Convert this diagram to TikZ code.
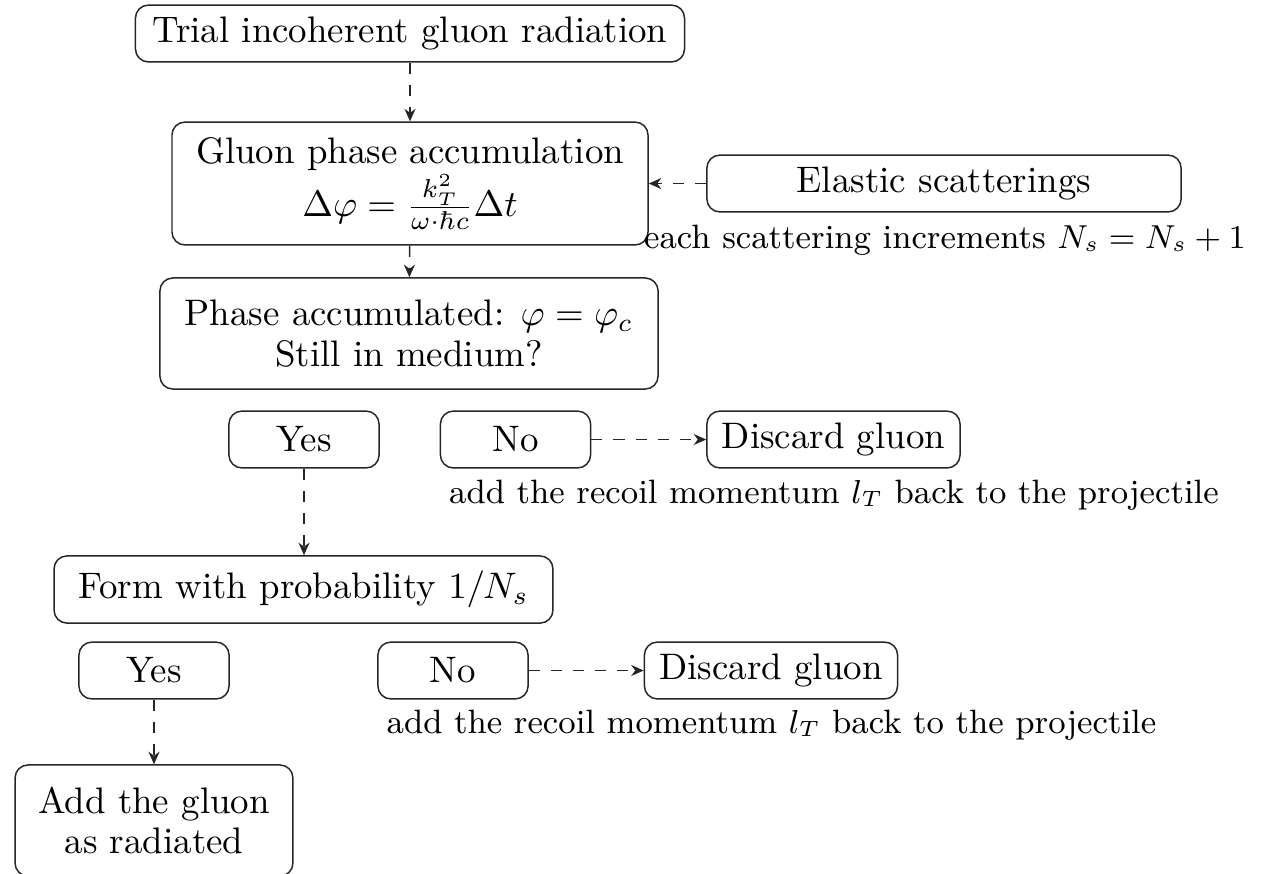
\documentclass[tikz,border=0pt]{standalone}
\usetikzlibrary{arrows.meta}
\begin{document}
\begin{tikzpicture}[x=0.271pt,y=-0.271pt,
  box/.style={draw=black!85, rounded corners=3.5pt, align=center, inner sep=0pt,
    font=\fontsize{10pt}{10.9pt}\selectfont},
  note/.style={inner sep=0pt, font=\fontsize{9.15pt}{11pt}\selectfont},
  flow/.style={draw=black!85, dashed, -{Stealth[length=3.4pt,width=3pt]}}]
\useasboundingbox (0,0) rectangle (1262,873);
\node[box, minimum width=148.8pt, minimum height=15.4pt] (trial) at (410,33.5) {Trial incoherent gluon radiation};
\node[box, minimum width=129pt, minimum height=33.3pt] (phase) at (410,183.5) {Gluon phase accumulation\\ $\Delta\varphi=\frac{k_T^2}{\omega\cdot\hbar c}\Delta t$};
\node[box, minimum width=128.5pt, minimum height=15.4pt] (elastic) at (944,183.5) {Elastic scatterings};
\node[note] (elnote) at (945,240) {each scattering increments $N_s=N_s+1$};
\node[box, minimum width=135pt, minimum height=30.1pt] (acc) at (409,333.5) {Phase accumulated: $\varphi=\varphi_c$\\ Still in medium?};
\node[box, minimum width=40.7pt, minimum height=15.4pt] (yes1) at (304,439.5) {Yes};
\node[box, minimum width=40.7pt, minimum height=15.4pt] (no1) at (515.5,439.5) {No};
\node[box, minimum width=68.6pt, minimum height=15.4pt] (disc1) at (833.5,439.5) {Discard gluon};
\node[note] (note1) at (834,495) {add the recoil momentum $l_T$ back to the projectile};
\node[box, minimum width=135.2pt, minimum height=18.2pt] (form) at (303.5,589.5) {Form with probability $1/N_s$};
\node[box, minimum width=40.7pt, minimum height=15.4pt] (yes2) at (154,670.5) {Yes};
\node[box, minimum width=40.7pt, minimum height=15.4pt] (no2) at (453,670.5) {No};
\node[box, minimum width=68.6pt, minimum height=15.4pt] (disc2) at (771,670.5) {Discard gluon};
\node[note] (note2) at (771.5,725) {add the recoil momentum $l_T$ back to the projectile};
\node[box, minimum width=75.3pt, minimum height=30.1pt] (add) at (154,820.5) {Add the gluon\\ as radiated};
\draw[flow] (trial) -- (phase);
\draw[flow] (phase) -- (acc);
\draw[flow] (elastic) -- (phase);
\draw[flow] (yes1) -- (yes1 |- form.north);
\draw[flow] (no1) -- (disc1);
\draw[flow] (yes2) -- (add);
\draw[flow] (no2) -- (disc2);
\end{tikzpicture}
\end{document}
